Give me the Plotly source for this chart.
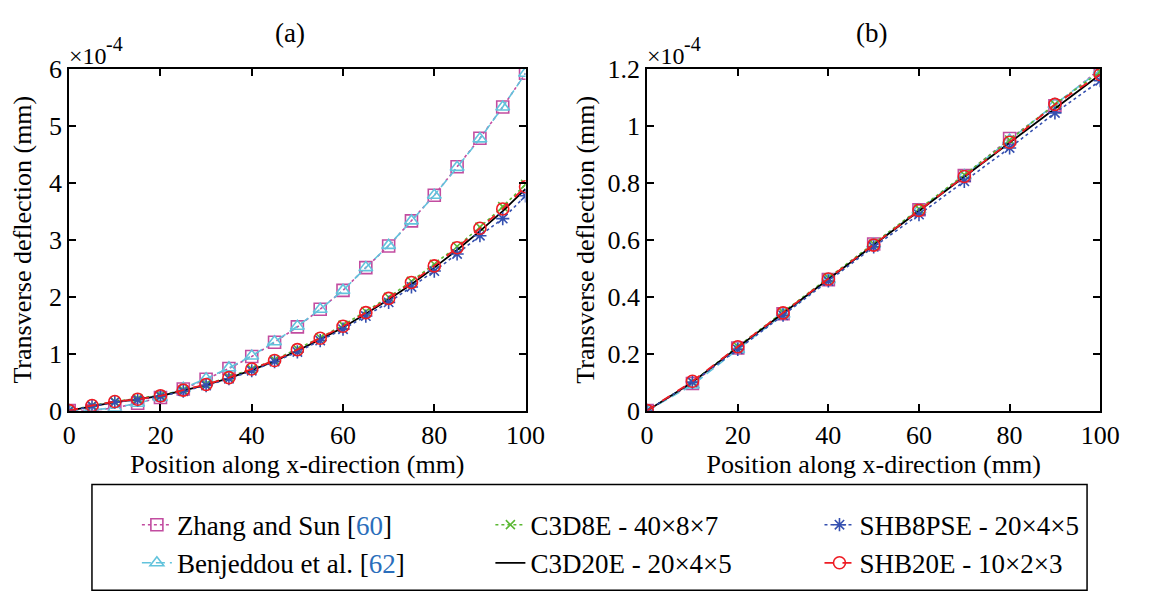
import plotly.graph_objects as go
from plotly.subplots import make_subplots

# ---------------- data (deflection in units of 1e-4 mm) ----------------
x_a = [0, 5, 10, 15, 20, 25, 30, 35, 40, 45, 50, 55, 60, 65, 70, 75, 80, 85, 90, 95, 100]
zhang_a = [0, 0.00, 0.05, 0.13, 0.23, 0.38, 0.55, 0.74, 0.95, 1.20, 1.47, 1.78, 2.11, 2.51, 2.89, 3.33, 3.78, 4.28, 4.78, 5.33, 5.92]
benj_a = [0, 0.01, 0.05, 0.13, 0.23, 0.39, 0.56, 0.75, 0.96, 1.21, 1.48, 1.78, 2.11, 2.51, 2.90, 3.33, 3.78, 4.27, 4.77, 5.33, 5.92]
c3d8e_a = [0, 0.09, 0.16, 0.21, 0.27, 0.36, 0.46, 0.59, 0.73, 0.89, 1.08, 1.28, 1.50, 1.74, 1.99, 2.27, 2.57, 2.88, 3.22, 3.58, 3.97]
c3d20e_a = [0, 0.08, 0.15, 0.20, 0.26, 0.35, 0.45, 0.57, 0.71, 0.87, 1.05, 1.25, 1.46, 1.70, 1.95, 2.22, 2.51, 2.82, 3.15, 3.50, 3.89]
shb8pse_a = [0, 0.08, 0.15, 0.19, 0.25, 0.34, 0.44, 0.56, 0.70, 0.86, 1.03, 1.23, 1.43, 1.66, 1.90, 2.17, 2.45, 2.75, 3.07, 3.37, 3.77]
shb20e_a = [0, 0.09, 0.16, 0.20, 0.26, 0.36, 0.46, 0.58, 0.73, 0.88, 1.07, 1.27, 1.48, 1.72, 1.97, 2.25, 2.54, 2.86, 3.20, 3.54, 3.93]

x_b = [0, 10, 20, 30, 40, 50, 60, 70, 80, 90, 100]
zhang_b = [0, 0.095, 0.220, 0.340, 0.460, 0.585, 0.705, 0.825, 0.955, 1.070, 1.200]
benj_b = [0, 0.090, 0.215, 0.338, 0.460, 0.585, 0.705, 0.825, 0.950, 1.075, 1.195]
c3d8e_b = [0, 0.100, 0.225, 0.345, 0.465, 0.585, 0.708, 0.828, 0.950, 1.075, 1.190]
c3d20e_b = [0, 0.100, 0.222, 0.342, 0.461, 0.580, 0.702, 0.820, 0.940, 1.062, 1.180]
shb8pse_b = [0, 0.100, 0.215, 0.335, 0.455, 0.575, 0.688, 0.805, 0.922, 1.045, 1.158]
shb20e_b = [0, 0.103, 0.224, 0.343, 0.462, 0.581, 0.703, 0.822, 0.942, 1.075, 1.180]

names = ["Zhang and Sun [<span style='color:#2a6ebb'>60</span>]",
         "Benjeddou et al. [<span style='color:#2a6ebb'>62</span>]",
         "C3D8E - 40×8×7",
         "C3D20E - 20×4×5",
         "SHB8PSE - 20×4×5",
         "SHB20E - 10×2×3"]

FONT = "Liberation Serif"
W, H = 1151, 608


def px(p):
    return p / W


def py(p):
    return 1 - p / H


styles = [
    dict(color="#c24ca0", dash="dot", symbol="square-open", size=12, lw=1.6, legend="legend"),
    dict(color="#62c3dc", dash="9px,5px", symbol="triangle-up-open", size=12, lw=1.6, legend="legend"),
    dict(color="#5bb833", dash="dot", symbol="x-thin-open", size=9, lw=1.6, legend="legend2"),
    dict(color="#000000", dash="solid", symbol=None, size=0, lw=1.8, legend="legend2"),
    dict(color="#3550b0", dash="dot", symbol="asterisk-open", size=11, lw=1.6, legend="legend3"),
    dict(color="#ee1c24", dash="dash", symbol="circle-open", size=12, lw=1.8, legend="legend3"),
]

series_a = [zhang_a, benj_a, c3d8e_a, c3d20e_a, shb8pse_a, shb20e_a]
series_b = [zhang_b, benj_b, c3d8e_b, c3d20e_b, shb8pse_b, shb20e_b]

fig = make_subplots(rows=1, cols=2)

for i, (ya, yb, st, nm) in enumerate(zip(series_a, series_b, styles, names)):
    mode = "lines" if st["symbol"] is None else "lines+markers"
    marker = dict() if st["symbol"] is None else dict(
        symbol=st["symbol"], size=st["size"], color=st["color"],
        line=dict(color=st["color"], width=1.6))
    fig.add_trace(go.Scatter(x=x_a, y=ya, mode=mode, name=nm,
                             line=dict(color=st["color"], dash=st["dash"], width=st["lw"]),
                             marker=marker, legend=st["legend"], legendgroup=str(i),
                             showlegend=True), row=1, col=1)
    fig.add_trace(go.Scatter(x=x_b, y=yb, mode=mode, name=nm,
                             line=dict(color=st["color"], dash=st["dash"], width=st["lw"]),
                             marker=marker, legendgroup=str(i),
                             showlegend=False), row=1, col=2)

axis_common = dict(showline=True, linecolor="black", linewidth=2, mirror="ticks",
                   ticks="inside", ticklen=7, tickwidth=1.5, tickcolor="black",
                   showgrid=False, zeroline=False,
                   tickfont=dict(family=FONT, size=26, color="black"))
title_font = dict(family=FONT, size=26, color="black")

fig.update_xaxes(**axis_common, range=[0, 100], tickvals=[0, 20, 40, 60, 80, 100],
                 title=dict(text="Position along x-direction (mm)", standoff=0, font=title_font))
fig.update_yaxes(**axis_common)

ax_a = [px(63.7), px(531)]
ax_b = [px(655.5), px(1119.5)]
ydom = [py(416.5), py(57.5)]
fig.update_layout(
    xaxis=dict(domain=ax_a),
    xaxis2=dict(domain=ax_b),
    yaxis=dict(domain=ydom, range=[0, 6], tickvals=[0, 1, 2, 3, 4, 5, 6],
               title=dict(text="Transverse deflection (mm)", standoff=10, font=title_font)),
    yaxis2=dict(domain=ydom, range=[0, 1.2],
                tickvals=[0, 0.2, 0.4, 0.6, 0.8, 1.0, 1.2],
                ticktext=["0", "0.2", "0.4", "0.6", "0.8", "1", "1.2"],
                title=dict(text="Transverse deflection (mm)", standoff=5, font=title_font)),
)

leg_common = dict(orientation="v", xanchor="left", yanchor="top", y=py(511),
                  bgcolor="rgba(0,0,0,0)", borderwidth=0, tracegroupgap=0,
                  font=dict(family=FONT, size=27, color="black"))
fig.update_layout(
    legend=dict(**leg_common, x=px(175 - 42)),
    legend2=dict(**leg_common, x=px(537 - 42)),
    legend3=dict(**leg_common, x=px(874 - 42)),
)

# legend frame
fig.add_shape(type="rect", xref="paper", yref="paper",
              x0=px(87), x1=px(1106), y0=py(605), y1=py(494),
              line=dict(color="black", width=1.5), fillcolor="rgba(0,0,0,0)")

# panel labels
for xc, lab in [(290, "(a)"), (885, "(b)")]:
    fig.add_annotation(x=px(xc), y=py(20), xref="paper", yref="paper", text=lab,
                       showarrow=False, xanchor="center", yanchor="middle",
                       font=dict(family=FONT, size=27, color="black"))
# exponent labels
for xl in [ax_a[0], ax_b[0]]:
    fig.add_annotation(x=xl, y=ydom[1], xref="paper", yref="paper",
                       text="×10", showarrow=False,
                       xanchor="left", yanchor="bottom", xshift=-2, yshift=-2,
                       font=dict(family=FONT, size=24, color="black"))
    fig.add_annotation(x=xl, y=ydom[1], xref="paper", yref="paper",
                       text="-4", showarrow=False,
                       xanchor="left", yanchor="bottom", xshift=35, yshift=12,
                       font=dict(family=FONT, size=20, color="black"))

fig.update_layout(width=W, height=H, margin=dict(l=0, r=0, t=0, b=0),
                  paper_bgcolor="white", plot_bgcolor="white",
                  font=dict(family=FONT, color="black"))

fig.write_html("out.html", config={"displayModeBar": False},
               post_script="document.body.style.margin='0px';document.body.style.overflow='hidden';")
